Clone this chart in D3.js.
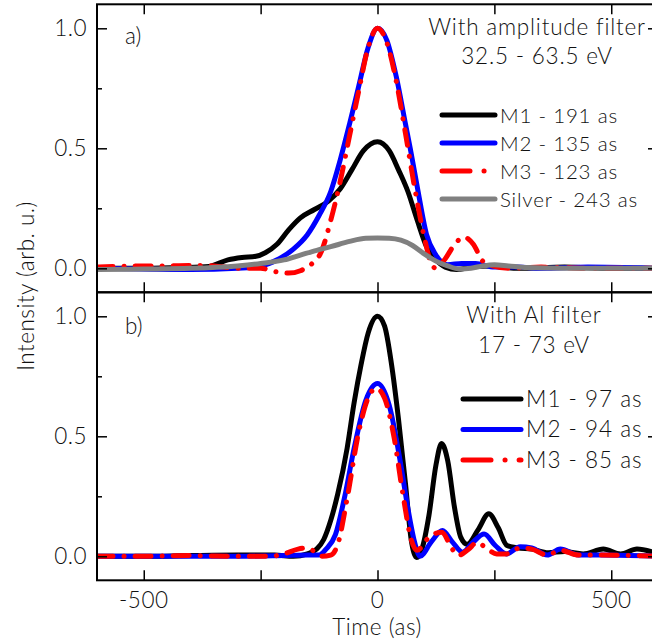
<!DOCTYPE html>
<html><head><meta charset="utf-8">
<script src="https://cdn.jsdelivr.net/npm/d3@7"></script>
<style>
html,body{margin:0;padding:0;background:#fff;}
text{font-family:"Lato","Liberation Sans",Arial,sans-serif;font-weight:300;fill:#111;}
</style></head>
<body><svg id="c" width="652" height="643"></svg>
<script>
// ---------- data ----------
const xTicks = [-500, -250, 0, 250, 500];
const xTickLabels = ["-500", "", "0", "", "500"];
const yTicks = [0, 0.25, 0.5, 0.75, 1.0];
const yTickLabels = ["0.0", "", "0.5", "", "1.0"];

// Panel a) With amplitude filter 32.5 - 63.5 eV
const aM1_t = [-600,-500,-420,-360,-320,-290,-260,-240,-215,-190,-165,-135,-105,-80,-55,-30,0,25,45,65,85,105,125,145,170,200,240,300,400,500,600];
const aM1_v = [0,0,0.003,0.008,0.035,0.045,0.05,0.065,0.1,0.16,0.21,0.245,0.28,0.33,0.41,0.49,0.527,0.49,0.41,0.32,0.2,0.09,0.035,0.005,-0.005,0.005,0.01,0,0.005,0,0];
const aM2_t = [-600,-400,-300,-250,-210,-180,-150,-125,-100,-80,-60,-40,-20,0,20,40,60,70,85,105,125,150,180,210,250,300,350,450,600];
const aM2_v = [0,-0.005,0,0.01,0.04,0.08,0.14,0.22,0.32,0.45,0.6,0.76,0.92,1.0,0.95,0.8,0.6,0.5,0.34,0.14,0.055,0.015,0.02,0.02,0.005,0.005,0,0.005,0];
const aM3_t = [-600,-500,-450,-400,-350,-300,-250,-215,-190,-165,-140,-120,-100,-80,-60,-40,-20,0,20,40,60,80,100,115,125,145,165,185,205,225,245,280,350,450,600];
const aM3_v = [0.005,0.01,0.01,0.012,0.01,0,0,-0.015,-0.02,-0.01,0.02,0.07,0.2,0.36,0.55,0.74,0.92,1.0,0.94,0.78,0.56,0.33,0.13,0.02,0.0,0.04,0.1,0.13,0.1,0.03,0.01,0,0.005,0,0];
const aAg_t = [-600,-500,-400,-300,-250,-200,-165,-130,-100,-60,-25,0,25,50,75,100,125,150,175,200,225,250,280,320,400,600];
const aAg_v = [-0.005,-0.003,0,0.01,0.02,0.035,0.055,0.075,0.09,0.112,0.125,0.126,0.125,0.117,0.095,0.06,0.03,0.01,-0.003,0,0.01,0.015,0.01,0.003,0,0];

// Panel b) With Al filter 17 - 73 eV
const bM1_t = [-600,-500,-400,-300,-220,-180,-150,-130,-115,-100,-85,-65,-50,-35,-20,0,15,30,45,60,72,84,95,110,125,137,150,165,178,192,215,238,258,277,300,330,365,400,440,483,520,555,600];
const bM1_v = [0,0,0.003,0.005,0.005,0,0.01,0.03,0.07,0.15,0.26,0.45,0.64,0.8,0.93,1.0,0.96,0.8,0.57,0.3,0.07,-0.005,0.03,0.17,0.38,0.47,0.4,0.2,0.08,0.05,0.11,0.177,0.12,0.045,0.035,0.03,0.015,0.02,0.01,0.03,0.01,0.03,0.01];
const bM2_t = [-600,-300,-200,-150,-125,-110,-90,-70,-50,-25,0,25,50,65,78,91,115,139,160,182,205,228,252,276,305,330,363,391,430,480,600];
const bM2_v = [0,0,0.003,0.005,0.005,0.03,0.09,0.25,0.45,0.65,0.72,0.63,0.38,0.2,0.07,0,0.06,0.107,0.06,0.017,0.06,0.093,0.045,0.01,0.04,0.035,0.005,0.03,0.005,0.005,0];
const bM3_t = [-600,-500,-400,-300,-230,-200,-170,-150,-135,-120,-100,-85,-65,-40,-20,-3,15,35,55,72,84,113,137,160,172,195,213,235,255,276,305,330,363,391,430,480,600];
const bM3_v = [0,0,0.003,0,0,0.01,0.03,0.035,0.02,0,0.005,0.05,0.24,0.52,0.66,0.7,0.66,0.5,0.25,0.07,0.025,0.085,0.1,0.03,0.003,0.03,0.058,0.03,0.01,0.01,0.035,0.03,0.005,0.025,0.005,0.005,0];

const panelA = {
  label: "a)", title: ["With amplitude filter", "32.5 - 63.5 eV"],
  series: [
    {name: "M1 - 191 as", t: aM1_t, v: aM1_v, color: "#000000", dash: null},
    {name: "M2 - 135 as", t: aM2_t, v: aM2_v, color: "#0000ff", dash: null},
    {name: "M3 - 123 as", t: aM3_t, v: aM3_v, color: "#ff0000", dash: "16,11,0.1,11"},
    {name: "Silver - 243 as", t: aAg_t, v: aAg_v, color: "#808080", dash: null}
  ]
};
const panelB = {
  label: "b)", title: ["With Al filter", "17 - 73 eV"],
  series: [
    {name: "M1 - 97 as", t: bM1_t, v: bM1_v, color: "#000000", dash: null},
    {name: "M2 - 94 as", t: bM2_t, v: bM2_v, color: "#0000ff", dash: null},
    {name: "M3 - 85 as", t: bM3_t, v: bM3_v, color: "#ff0000", dash: "16,11,0.1,11"}
  ]
};

// ---------- layout ----------
const svg = d3.select("#c");
const X0 = 97, X1 = 658;
const x = d3.scaleLinear().domain([-600, 600]).range([X0, X1]);
const panels = [
  {p: panelA, top: 4.3, bottom: 292.3, legY: 115, legDy: 28, legX1: 442, legX2: 495, legFont: 20.5, legLS: 0.8, titleY: [35, 64], titleX: 537, titleFont: 22.5, labY: 44},
  {p: panelB, top: 292.3, bottom: 580.3, legY: 399, legDy: 30.5, legX1: 463, legX2: 521, legFont: 22.5, legLS: 1.0, titleY: [323, 353], titleX: 534, titleFont: 22.5, labY: 334}
];

panels.forEach((P, pi) => {
  const y = d3.scaleLinear().domain([-0.1, 1.1]).range([P.bottom, P.top]);
  const g = svg.append("g");
  const clipId = "clip" + pi;
  svg.append("clipPath").attr("id", clipId).append("rect")
    .attr("x", X0).attr("y", P.top).attr("width", X1 - X0).attr("height", P.bottom - P.top);

  const line = d3.line().x(d => x(d[0])).y(d => y(d[1])).curve(d3.curveMonotoneX);
  const lines = g.append("g").attr("clip-path", `url(#${clipId})`);
  P.p.series.forEach(s => {
    const pts = s.t.map((t, i) => [t, s.v[i]]);
    lines.append("path").attr("d", line(pts)).attr("fill", "none")
      .attr("stroke", s.color).attr("stroke-width", 5)
      .attr("stroke-linejoin", "round")
      .attr("stroke-linecap", s.dash ? "round" : "butt")
      .attr("stroke-dasharray", s.dash);
  });

  // axes with inward ticks
  const axL = d3.axisLeft(y).tickValues(yTicks).tickSize(-10).tickPadding(0).tickFormat("");
  const gl = g.append("g").attr("transform", `translate(${X0},0)`).call(axL);
  const axR = d3.axisRight(y).tickValues(yTicks).tickSize(-10).tickFormat("");
  const gr = g.append("g").attr("transform", `translate(${X1},0)`).call(axR);
  const axT = d3.axisTop(x).tickValues(xTicks).tickSize(-10).tickFormat("");
  const gt = g.append("g").attr("transform", `translate(0,${P.top})`).call(axT);
  const axB = d3.axisBottom(x).tickValues(xTicks).tickSize(-10).tickFormat("");
  const gb = g.append("g").attr("transform", `translate(0,${P.bottom})`).call(axB);
  [gl, gr, gt, gb].forEach(a => {
    a.select(".domain").remove();
    a.selectAll(".tick line").attr("stroke", "#000").attr("stroke-width", 1.5);
  });
  gl.selectAll(".tick line").attr("x2", (d, i) => yTickLabels[i] ? 10 : 5);
  gr.selectAll(".tick line").attr("x2", (d, i) => yTickLabels[i] ? -10 : -5);

  // y tick labels
  g.selectAll(".ylab").data(yTicks).enter().append("text")
    .attr("x", 87).attr("y", d => y(d) + 7.5)
    .attr("text-anchor", "end").attr("font-size", 22.5).attr("letter-spacing", 0.5)
    .text((d, i) => yTickLabels[i]);

  // frame
  g.append("rect").attr("x", X0).attr("y", P.top).attr("width", X1 - X0).attr("height", P.bottom - P.top)
    .attr("fill", "none").attr("stroke", "#000").attr("stroke-width", 2);

  // panel label
  g.append("text").attr("x", 125).attr("y", P.labY).attr("font-size", 22.5).text(P.p.label);

  // title
  P.p.title.forEach((tt, i) => {
    g.append("text").attr("x", P.titleX).attr("y", P.titleY[i]).attr("text-anchor", "middle")
      .attr("font-size", P.titleFont).attr("letter-spacing", 0.8).text(tt);
  });

  // legend
  P.p.series.forEach((s, i) => {
    const ly = P.legY + i * P.legDy;
    g.append("line").attr("x1", P.legX1).attr("x2", P.legX2).attr("y1", ly).attr("y2", ly)
      .attr("stroke", s.color).attr("stroke-width", 5)
      .attr("stroke-linecap", "round")
      .attr("stroke-dasharray", s.dash ? "28,14,0.1,14" : null);
    g.append("text").attr("x", P.legX2 + 5).attr("y", ly + 7.5)
      .attr("font-size", P.legFont).attr("letter-spacing", P.legLS).text(s.name);
  });

  if (pi === 1) {
    g.selectAll(".xlab").data(xTicks).enter().append("text")
      .attr("x", d => x(d)).attr("y", 608)
      .attr("text-anchor", "middle").attr("font-size", 22.5).attr("letter-spacing", 0.5)
      .text((d, i) => xTickLabels[i]);
  }
});

svg.append("text").attr("x", 377).attr("y", 635).attr("text-anchor", "middle")
  .attr("font-size", 22.5).attr("letter-spacing", 0.5).text("Time (as)");
svg.append("text").attr("transform", "translate(34,286) rotate(-90)").attr("text-anchor", "middle")
  .attr("font-size", 22.5).attr("letter-spacing", 0.5).text("Intensity (arb. u.)");
</script></body></html>
